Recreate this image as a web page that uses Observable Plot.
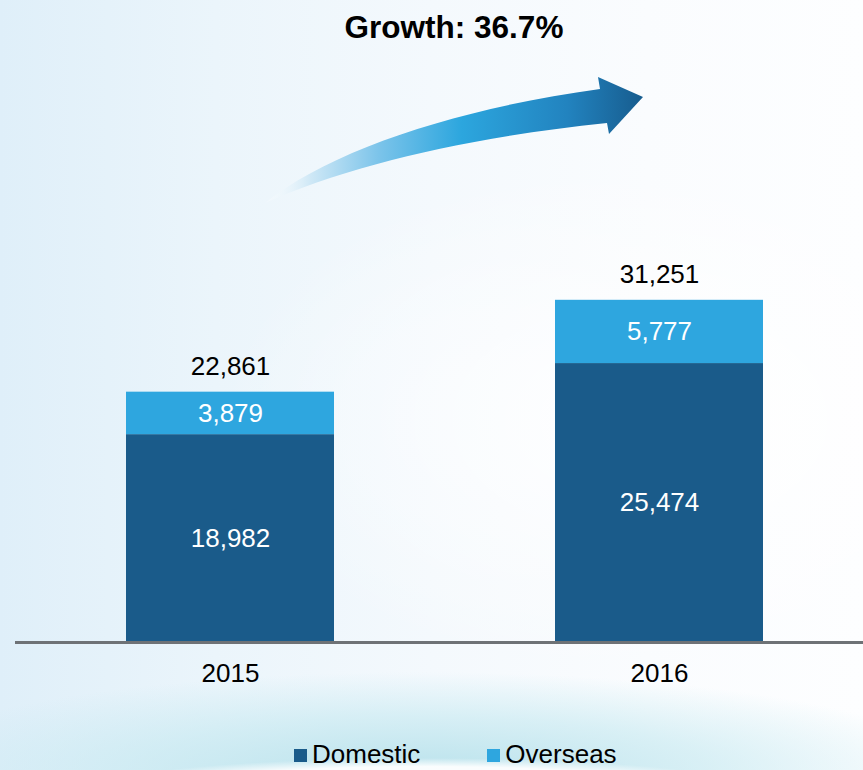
<!DOCTYPE html>
<html>
<head>
<meta charset="utf-8">
<script src="https://cdn.jsdelivr.net/npm/d3@7"></script>
<script src="https://cdn.jsdelivr.net/npm/@observablehq/plot@0.6"></script>
<style>
  html, body { margin: 0; padding: 0; }
  #wrap {
    width: 863px; height: 770px; overflow: hidden; position: relative;
    font-family: "Liberation Sans", Arial, sans-serif;
    background:
      radial-gradient(ellipse 340px 34px at 425px 792px, rgba(255,255,255,0.97) 0%, rgba(255,255,255,0.92) 75%, rgba(255,255,255,0) 100%),
      radial-gradient(ellipse 540px 100px at 420px 772px, rgba(180,224,234,0.9) 0%, rgba(195,232,240,0.6) 55%, rgba(220,240,246,0) 100%),
      radial-gradient(ellipse 420px 260px at 640px 420px, rgba(255,255,255,0.9) 0%, rgba(255,255,255,0) 100%),
      linear-gradient(to right, #dfeff9 0%, #ebf5fb 25%, #f4f9fd 50%, #fafcfe 75%, #fdfeff 100%);
  }
  #title {
    height: 48px; padding-top: 2px; line-height: 50px; font-size: 31.5px; font-weight: bold;
    text-align: center; padding-left: 45px; box-sizing: content-box; color: #000;
  }
  #chart svg { display: block; background: transparent; overflow: visible; }
  #legend {
    height: 30px; display: flex; align-items: flex-start; padding-left: 294px;
    font-size: 26px; line-height: 29px; color: #000;
  }
  #legend .sw { width: 13px; height: 13px; display: inline-block; margin-right: 5px; position: relative; top: 1px; }
  #legend .item { display: flex; align-items: center; height: 29px; }
</style>
</head>
<body>
<div id="wrap">
  <div id="title"></div>
  <div id="chart"></div>
  <div id="legend"></div>
</div>
<script>
const years = ["2015", "2016"];
const domestic = [18982, 25474];
const overseas = [3879, 5777];
const totals = [22861, 31251];
const seriesNames = ["Domestic", "Overseas"];
const seriesColors = ["#1a5b8a", "#2ea6df"];
const titleText = "Growth: 36.7%";

const fmt = d3.format(",");

// segment table built from the arrays
const segs = years.flatMap((year, i) => [
  {year, series: seriesNames[0], y1: 0, y2: domestic[i], mid: domestic[i] / 2, value: domestic[i]},
  {year, series: seriesNames[1], y1: domestic[i], y2: domestic[i] + overseas[i], mid: domestic[i] + overseas[i] / 2, value: overseas[i]}
]);
const totalTable = years.map((year, i) => ({year, total: totals[i]}));

document.getElementById("title").textContent = titleText;

// decorative growth arrow
function arrowMark() {
  const g = d3.create("svg:g");
  const defs = g.append("defs");
  const lg = defs.append("linearGradient").attr("id", "arrowGrad")
    .attr("gradientUnits", "userSpaceOnUse")
    .attr("x1", 265).attr("y1", 0).attr("x2", 643).attr("y2", 0);
  [[0, "#ffffff", 0.2], [0.12, "#cfe8f6", 1], [0.3, "#7cc4ea", 1], [0.52, "#2ca6de", 1], [0.8, "#2283bf", 1], [1, "#175c8e", 1]]
    .forEach(([o, c, op]) => lg.append("stop").attr("offset", o).attr("stop-color", c).attr("stop-opacity", op));
  g.append("path")
    .attr("d", "M265,153 C330,100 460,58 600,39 L598,27 L643,47 L609,84 L607,73 C470,87 350,115 265,153 Z")
    .attr("fill", "url(#arrowGrad)");
  return g.node();
}

const plot = Plot.plot({
  width: 863,
  height: 690,
  marginTop: 154,
  marginBottom: 98,
  marginLeft: 15,
  marginRight: 0,
  style: {fontFamily: "'Liberation Sans', Arial, sans-serif", color: "#000", background: "transparent"},
  x: {domain: years, range: [126, 763], paddingInner: 0.5152, paddingOuter: 0},
  y: {domain: [0, 40000], axis: null},
  color: {domain: seriesNames, range: seriesColors},
  marks: [
    arrowMark,
    Plot.barY(segs, {x: "year", y1: "y1", y2: "y2", fill: "series"}),
    Plot.ruleY([0], {stroke: "#6e7276", strokeWidth: 3}),
    Plot.text(segs, {x: "year", y: "mid", text: d => fmt(d.value), fill: "white", fontSize: 26}),
    Plot.text(totalTable, {x: "year", y: "total", text: d => fmt(d.total), fill: "black", fontSize: 26, dy: -26}),
    Plot.axisX({tickSize: 0, tickPadding: 21, fontSize: 26, fill: "black", label: null})
  ]
});
document.getElementById("chart").appendChild(plot);

const legend = document.getElementById("legend");
seriesNames.forEach((name, i) => {
  const item = document.createElement("span");
  item.className = "item";
  if (i > 0) item.style.marginLeft = "67px";
  const sw = document.createElement("span");
  sw.className = "sw";
  sw.style.background = seriesColors[i];
  const t = document.createElement("span");
  t.textContent = name;
  item.appendChild(sw);
  item.appendChild(t);
  legend.appendChild(item);
});
</script>
</body>
</html>
